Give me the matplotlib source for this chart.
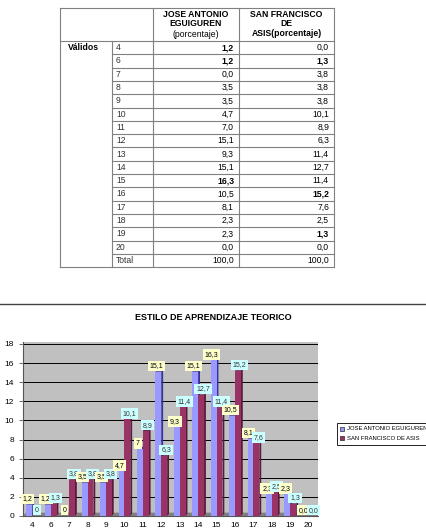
import matplotlib.pyplot as plt
from matplotlib.patches import Rectangle, Polygon
import numpy as np

plt.rcParams['font.family'] = ['Liberation Sans', 'DejaVu Sans']

W, H = 426, 531

# datos
categorias = ['4', '6', '7', '8', '9', '10', '11', '12', '13', '14', '15', '16', '17', '18', '19', '20']
jose = [1.2, 1.2, 0.0, 3.5, 3.5, 4.7, 7.0, 15.1, 9.3, 15.1, 16.3, 10.5, 8.1, 2.3, 2.3, 0.0]
sanfran = [0.0, 1.3, 3.8, 3.8, 3.8, 10.1, 8.9, 6.3, 11.4, 12.7, 11.4, 15.2, 7.6, 2.5, 1.3, 0.0]
etiq_jose = ['1,2', '1,2', '0', '3,5', '3,5', '4,7', '7', '15,1', '9,3', '15,1', '16,3', '10,5', '8,1', '2,3', '2,3', '0,0']
etiq_sanfran = ['0', '1,3', '3,8', '3,8', '3,8', '10,1', '8,9', '6,3', '11,4', '12,7', '11,4', '15,2', '7,6', '2,5', '1,3', '0,0']
tabla_jose = ['1,2', '1,2', '0,0', '3,5', '3,5', '4,7', '7,0', '15,1', '9,3', '15,1', '16,3', '10,5', '8,1', '2,3', '2,3', '0,0', '100,0']
tabla_sanfran = ['0,0', '1,3', '3,8', '3,8', '3,8', '10,1', '8,9', '6,3', '11,4', '12,7', '11,4', '15,2', '7,6', '2,5', '1,3', '0,0', '100,0']
negrita_jose = {0, 1, 10}
negrita_sanfran = {1, 11, 14}
series = ['JOSE ANTONIO EGUIGUREN', 'SAN FRANCISCO DE ASIS']

fig = plt.figure(figsize=(W / 100, H / 100), dpi=100)
fig.patch.set_facecolor('white')

# --- tabla (en pixeles) ---
bg = fig.add_axes([0, 0, 1, 1])
bg.set_xlim(0, W)
bg.set_ylim(H, 0)
bg.axis('off')

cols = [60, 112, 153, 239, 334]
top, head_bot, row_h = 8, 41, 13.3
nrows = len(tabla_jose)
bottom = head_bot + nrows * row_h
lc = '#808080'
for x in [cols[0], cols[2], cols[3], cols[4]]:
    bg.plot([x, x], [top, bottom], color=lc, lw=0.8)
bg.plot([cols[1], cols[1]], [head_bot, bottom], color=lc, lw=0.8)
bg.plot([cols[0], cols[4]], [top, top], color=lc, lw=0.8)
bg.plot([cols[0], cols[4]], [head_bot, head_bot], color=lc, lw=0.8)
for i in range(1, nrows + 1):
    y = head_bot + i * row_h
    bg.plot([cols[1], cols[4]], [y, y], color=lc, lw=0.8)
bg.plot([cols[0], cols[1]], [bottom, bottom], color=lc, lw=0.8)

bg.text((cols[2] + cols[3]) / 2, 10, 'JOSE ANTONIO\nEGUIGUREN', ha='center', va='top',
        fontsize=6.2, fontweight='bold', linespacing=1.05)
bg.text((cols[2] + cols[3]) / 2, 30, '(porcentaje)', ha='center', va='top', fontsize=6.2)
bg.text((cols[3] + cols[4]) / 2, 10, 'SAN FRANCISCO\nDE\nASIS(porcentaje)', ha='center', va='top',
        fontsize=6.2, fontweight='bold', linespacing=1.05)
bg.text(68, head_bot + row_h / 2, 'Válidos', ha='left', va='center', fontsize=6.2, fontweight='bold')

etiq_filas = categorias + ['Total']
for i in range(nrows):
    yc = head_bot + (i + 0.5) * row_h
    bg.text(cols[1] + 4, yc, etiq_filas[i], ha='left', va='center', fontsize=6.2, color='#333333')
    bg.text(cols[3] - 5, yc, tabla_jose[i], ha='right', va='center', fontsize=6.2,
            fontweight='bold' if i in negrita_jose else 'normal')
    bg.text(cols[4] - 5, yc, tabla_sanfran[i], ha='right', va='center', fontsize=6.2,
            fontweight='bold' if i in negrita_sanfran else 'normal')

# linea separadora
bg.plot([0, W], [304, 304], color='#444444', lw=1.0)
bg.text(213, 318, 'ESTILO DE APRENDIZAJE TEORICO', ha='center', va='center',
        fontsize=6.5, fontweight='bold')

# --- grafico ---
px_l, px_r, px_t, px_b = 23, 318, 342, 516
ax = fig.add_axes([px_l / W, 1 - px_b / H, (px_r - px_l) / W, (px_b - px_t) / H])
ax.set_facecolor('#C0C0C0')
ax.set_xlim(-0.5, len(categorias) - 0.5)
ax.set_ylim(0, 18.2)
ax.set_yticks(range(0, 19, 2))
ax.set_xticks(range(len(categorias)))
ax.set_xticklabels(categorias)
ax.tick_params(axis='both', labelsize=6, length=3, width=0.6, color='#555555')
ax.tick_params(axis='x', length=0, pad=4)
for yv in range(2, 19, 2):
    ax.axhline(yv, color='black', lw=0.7, zorder=1)
for s in ['top', 'right']:
    ax.spines[s].set_visible(False)
ax.spines['left'].set_color('#555555')
ax.spines['bottom'].set_color('#555555')
# piso
ax.add_patch(Polygon([(-0.5, 0), (len(categorias) - 0.5, 0), (len(categorias) - 0.35, 0.35), (-0.35, 0.35)],
                     closed=True, facecolor='#808080', edgecolor='none', zorder=1.5))

x = np.arange(len(categorias))
w = 0.32
dx, dy = 0.1, 0.25


def barra3d(xc, val, color, lado):
    if val <= 0:
        return
    ax.add_patch(Polygon([(xc + w / 2, 0), (xc + w / 2 + dx, dy), (xc + w / 2 + dx, val + dy), (xc + w / 2, val)],
                         closed=True, facecolor=lado, edgecolor='none', zorder=3))
    ax.add_patch(Polygon([(xc - w / 2, val), (xc - w / 2 + dx, val + dy), (xc + w / 2 + dx, val + dy), (xc + w / 2, val)],
                         closed=True, facecolor=lado, edgecolor='none', zorder=3))
    ax.add_patch(Rectangle((xc - w / 2, 0), w, val, facecolor=color, edgecolor='none', zorder=3))


for i in range(len(categorias)):
    barra3d(x[i] - w / 2, jose[i], '#9999FF', '#333399')
    barra3d(x[i] + w / 2, sanfran[i], '#993366', '#5A1A3A')

for i in range(len(categorias)):
    ax.text(x[i] - w / 2 - 0.1, jose[i] + 0.6, etiq_jose[i], ha='center', va='center', fontsize=5,
            color='black', zorder=5, bbox=dict(boxstyle='square,pad=0.25', fc='#FFFFCC', ec='none'))
    ax.text(x[i] + w / 2 + 0.1, sanfran[i] + 0.6, etiq_sanfran[i], ha='center', va='center', fontsize=5,
            color='#333333', zorder=5, bbox=dict(boxstyle='square,pad=0.25', fc='#CCFFFF', ec='none'))

# leyenda
lx, ly = 337, 423
bg.add_patch(Rectangle((lx, ly), 95, 22, facecolor='white', edgecolor='black', lw=0.6))
bg.add_patch(Rectangle((lx + 3, ly + 4), 4, 4, facecolor='#9999FF', edgecolor='black', lw=0.4))
bg.add_patch(Rectangle((lx + 3, ly + 13), 4, 4, facecolor='#993366', edgecolor='black', lw=0.4))
bg.text(lx + 10, ly + 6, series[0], ha='left', va='center', fontsize=4.2)
bg.text(lx + 10, ly + 15, series[1], ha='left', va='center', fontsize=4.2)

fig.savefig('out.png', dpi=100)
